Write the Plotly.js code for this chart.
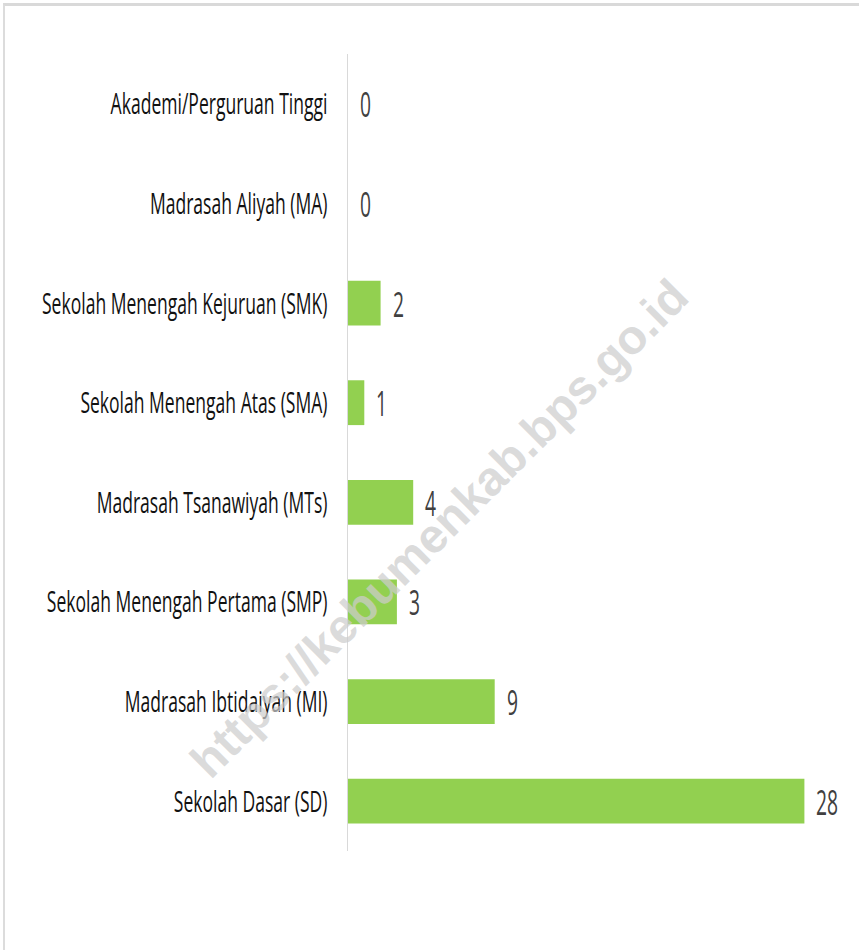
<!DOCTYPE html>
<html>
<head>
<meta charset="utf-8">
<script src="https://cdn.plot.ly/plotly-3.0.1.min.js"></script>
<style>
  html, body { margin: 0; padding: 0; background: #fff; }
  #frame { position: absolute; left: 3px; top: 3px; border-top: 3px solid #d9d9d9; border-left: 2px solid #dcdcdc; }
  #chart { width: 854px; height: 944px; }
</style>
</head>
<body>
<div id="frame"><div id="chart"></div></div>
<script>
// Categories listed top to bottom
var categories = [
  "Akademi/Perguruan Tinggi",
  "Madrasah Aliyah (MA)",
  "Sekolah Menengah Kejuruan (SMK)",
  "Sekolah Menengah Atas (SMA)",
  "Madrasah Tsanawiyah (MTs)",
  "Sekolah Menengah Pertama (SMP)",
  "Madrasah Ibtidaiyah (MI)",
  "Sekolah Dasar (SD)"
];
var values = [0, 0, 2, 1, 4, 3, 9, 28];
var watermarkText = "https://kebumenkab.bps.go.id";

var SQUASH = 0.585;

var trace = {
  type: "bar",
  orientation: "h",
  x: values,
  y: categories,
  width: 0.45,
  marker: { color: "#92d050" },
  hoverinfo: "skip"
};

var annotations = values.map(function (v, i) {
  return {
    x: v, y: categories[i], xref: "x", yref: "y",
    text: String(v), showarrow: false,
    xanchor: "left", yanchor: "middle", xshift: 10,
    font: { family: "Open Sans", size: 35, color: "#404040" }
  };
});
annotations.push({
  x: 0.186, y: 0.405, xref: "paper", yref: "paper",
  text: watermarkText, showarrow: false, textangle: -45,
  xanchor: "center", yanchor: "middle",
  font: { family: "Liberation Sans", size: 48, color: "rgba(205,205,205,0.72)", weight: "bold" }
});

var layout = {
  width: 854, height: 944,
  margin: { l: 343, r: 22, t: 48, b: 99, pad: 0 },
  paper_bgcolor: "#ffffff", plot_bgcolor: "#ffffff",
  showlegend: false,
  xaxis: { range: [0, 30], showticklabels: false, showgrid: false, zeroline: false, showline: false, ticks: "" },
  yaxis: {
    autorange: "reversed", type: "category",
    showline: true, linecolor: "#d9d9d9", linewidth: 1.5,
    showgrid: false, zeroline: false, ticks: "",
    ticklabelstandoff: 13,
    tickfont: { family: "Open Sans", size: 30, color: "#111111" }
  },
  annotations: annotations
};

function squash(el, sx, mode) {
  var bb = el.getBBox();
  var ox = mode === "end" ? bb.x + bb.width : (mode === "start" ? bb.x : bb.x + bb.width / 2);
  var t = el.getAttribute("transform") || "";
  el.setAttribute("transform", t + " translate(" + ox + ",0) scale(" + sx + ",1) translate(" + (-ox) + ",0)");
}

Plotly.newPlot("chart", [trace], layout, { staticPlot: true, displayModeBar: false }).then(function (gd) {
  gd.querySelectorAll(".ytick text").forEach(function (el) { squash(el, SQUASH, "end"); });
  var anns = gd.querySelectorAll(".annotation-text");
  for (var i = 0; i < values.length; i++) { squash(anns[i], 0.55, "start"); }
});
</script>
</body>
</html>
